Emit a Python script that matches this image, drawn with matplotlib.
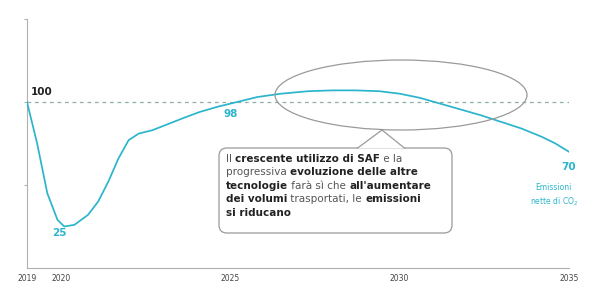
import matplotlib.pyplot as plt
import matplotlib.patches as mpatches
import matplotlib.transforms as mtransforms

# Data (index, 2019 = 100)
years = [2019, 2019.3, 2019.6, 2019.9, 2020.1, 2020.4, 2020.8, 2021.1, 2021.4, 2021.7,
         2022.0, 2022.3, 2022.7, 2023.2, 2023.7, 2024.1, 2024.6, 2025.0, 2025.8, 2026.5,
         2027.3, 2028.0, 2028.7, 2029.4, 2030.0, 2030.6, 2031.2, 2031.8, 2032.4, 2033.0,
         2033.6, 2034.2, 2034.6, 2035.0]
emissions = [100, 75, 45, 29, 25, 26, 32, 40, 52, 66,
             77, 81, 83, 87, 91, 94, 97, 99, 103, 105,
             106.5, 107, 107, 106.5, 105, 102.5, 99, 95.5, 92, 88,
             84, 79, 75, 70]
xticks = [2019, 2020, 2025, 2030, 2035]

cyan = '#2bb5cc'
grey = '#9a9a9a'

fig = plt.figure(figsize=(5.91, 2.85), dpi=100)
ax = fig.add_axes([27 / 591, 17 / 285, 542 / 591, 249 / 285])
ax.set_xlim(2019, 2035)
ax.set_ylim(0, 150)

ax.plot(years, emissions, color=cyan, lw=1.25, zorder=3)
ax.axhline(100, color='#8fb0a8', lw=0.9, ls=(0, (3, 3)), zorder=2)

for s in ['top', 'right']:
    ax.spines[s].set_visible(False)
for s in ['left', 'bottom']:
    ax.spines[s].set_color('#b0b0b0')
    ax.spines[s].set_linewidth(0.8)
ax.set_xticks(xticks)
ax.set_xticklabels([str(x) for x in xticks], fontsize=5.5, color='#444444')
ax.tick_params(axis='x', length=0, pad=4)
ax.set_yticks([50, 100, 150])
ax.set_yticklabels([])
ax.tick_params(axis='y', length=2, color='#b0b0b0')

ax.text(2019.1, 104, '100', fontsize=7.5, fontweight='bold', color='#222222')
ax.text(2019.95, 24, '25', fontsize=7.5, fontweight='bold', color=cyan, ha='center', va='top')
ax.text(2025.0, 96, '98', fontsize=7.5, fontweight='bold', color=cyan, ha='center', va='top')
ax.text(2035.0, 64, '70', fontsize=7.5, fontweight='bold', color=cyan, ha='center', va='top')
ax.text(2034.55, 51, 'Emissioni\nnette di CO$_2$', fontsize=5.5, color=cyan,
        ha='center', va='top', linespacing=1.3)

# annotation shapes, in figure pixels (y measured from the bottom)
ident = mtransforms.IdentityTransform()
H = 285
ell = mpatches.Ellipse((401, H - 95), 252, 70, fill=False, ec=grey, lw=0.9,
                       transform=ident, zorder=4)
fig.add_artist(ell)

box = mpatches.FancyBboxPatch((219, H - 233), 233, 85,
                              boxstyle='round,pad=0,rounding_size=8',
                              fc='white', ec=grey, lw=0.9, transform=ident, zorder=5)
fig.add_artist(box)
tri = mpatches.Polygon([(357, H - 148.5), (382, H - 130), (405, H - 148.5)],
                       closed=False, fc='white', ec=grey, lw=0.9,
                       transform=ident, zorder=6)
fig.add_artist(tri)

lines = [
    [('Il ', False), ('crescente utilizzo di SAF', True), (' e la', False)],
    [('progressiva ', False), ('evoluzione delle altre', True)],
    [('tecnologie', True), (' farà sì che ', False), ("all'aumentare", True)],
    [('dei volumi', True), (' trasportati, le ', False), ('emissioni', True)],
    [('si riducano', True)],
]

renderer = fig.canvas.get_renderer()
x0, y0, dy = 226, H - 162, 13.4
for i, parts in enumerate(lines):
    x = x0
    for txt, bold in parts:
        t = fig.text(x, y0 - i * dy, txt, fontsize=7.5, transform=ident,
                     fontweight='bold' if bold else 'normal',
                     color='#222222' if bold else '#555555',
                     va='baseline', zorder=7)
        x += t.get_window_extent(renderer).width

fig.savefig('out.png', dpi=100)
